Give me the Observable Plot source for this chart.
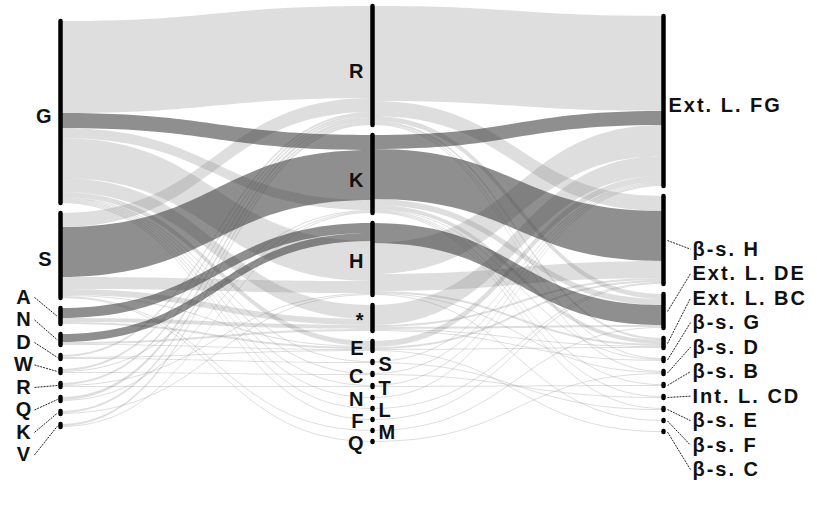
<!DOCTYPE html>
<html><head><meta charset="utf-8">
<script src="https://cdn.jsdelivr.net/npm/d3@7"></script>
<script src="https://cdn.jsdelivr.net/npm/@observablehq/plot@0.6"></script>
<style>body{margin:0;background:#fff}</style>
</head><body><div id="chart"></div>
<script>
// ---- data ----
const leftCategories = ["G","S","A","N","D","W","R","Q","K","V"];
const middleCategories = ["R","K","H","*","E","S","C","T","N","L","F","M","Q"];
const rightCategories = ["Ext. L. FG","β-s. H","Ext. L. DE","Ext. L. BC","β-s. G","β-s. D","β-s. B","Int. L. CD","β-s. E","β-s. F","β-s. C"];

// [from, to, value, highlighted]
const flowsLeftMiddle = [
  ["G","R",92,0],["G","K",15,1],["G","K",10,0],["G","H",40,0],["G","*",14,0],["G","E",5,0],["G","S",1,0],["G","C",1,0],["G","T",1,0],["G","N",1,0],["G","L",1,0],["G","F",1,0],
  ["S","R",14,0],["S","K",50,1],["S","H",12,0],["S","*",6,0],["S","E",1,0],["S","M",1,0],["S","Q",1,0],
  ["A","H",10,1],["A","*",4,0],["A","E",2,0],
  ["N","H",8,1],["N","*",2,0],["N","E",1,0],
  ["D","R",2,0],["D","E",1,0],["D","S",1,0],
  ["W","R",2,0],["W","K",1,0],["W","C",1,0],
  ["R","R",2,0],["R","H",1,0],["R","T",1,0],
  ["Q","R",3,0],["Q","K",1,0],
  ["K","R",2,0],["K","H",1,0],
  ["V","R",2,0],["V","K",1,0]
];
const flowsMiddleRight = [
  ["R","Ext. L. FG",95,0],["R","β-s. H",15,0],["R","Ext. L. DE",5,0],["R","Ext. L. BC",2,0],["R","β-s. G",1,0],["R","β-s. D",1,0],
  ["K","Ext. L. FG",14,1],["K","β-s. H",50,1],["K","Ext. L. DE",6,0],["K","Ext. L. BC",4,0],["K","β-s. G",1,0],["K","β-s. B",1,0],["K","Int. L. CD",1,0],["K","β-s. E",1,0],
  ["H","Ext. L. FG",31,0],["H","β-s. H",17,0],["H","Ext. L. DE",20,1],["H","Ext. L. BC",2,0],["H","β-s. D",1,0],["H","β-s. F",1,0],
  ["*","Ext. L. FG",20,0],["*","β-s. H",2,0],["*","Ext. L. DE",2,0],["*","β-s. G",1,0],["*","Ext. L. BC",1,0],
  ["E","Ext. L. FG",6,0],["E","β-s. H",2,0],["E","Ext. L. BC",1,0],["E","β-s. C",1,0],
  ["S","Ext. L. FG",1,0],["S","β-s. E",1,0],
  ["C","Ext. L. FG",1,0],["C","Int. L. CD",1,0],
  ["T","Ext. L. FG",1,0],["T","β-s. B",1,0],
  ["N","Ext. L. FG",1,0],
  ["L","β-s. H",1,0],
  ["F","β-s. H",1,0],
  ["M","Ext. L. DE",1,0],
  ["Q","β-s. D",1,0]
];

// ---- layout ----
const PAD = 10, CENTER = 224;
const stageX = [60, 372, 663];
const px = (col, dx) => stageX[col] + dx;

const columns = [leftCategories, middleCategories, rightCategories];
const stages = [flowsLeftMiddle, flowsMiddleRight];
const nodes = columns.map((cats, c) => cats.map((name, i) => ({name, col: c, x: stageX[c], index: i, ins: [], outs: []})));
const links = [];
stages.forEach((flows, s) => flows.forEach(([a, b, v, dark], k) => {
  const src = nodes[s].find(n => n.name === a), tgt = nodes[s + 1].find(n => n.name === b);
  const l = {id: s + "-" + k, source: src, target: tgt, value: v, dark: !!dark};
  src.outs.push(l); tgt.ins.push(l); links.push(l);
}));
nodes.forEach(col => {
  col.forEach(n => n.value = Math.max(d3.sum(n.ins, l => l.value), d3.sum(n.outs, l => l.value)));
  const total = d3.sum(col, n => n.value) + PAD * (col.length - 1);
  let y = CENTER - total / 2;
  col.forEach(n => { n.y0 = y; n.y1 = y + n.value; n.cy = (n.y0 + n.y1) / 2; y = n.y1 + PAD; });
});
nodes.flat().forEach(n => {
  const mid = n.col === 1;
  const outs = [...n.outs].sort((a, b) => (mid ? (b.dark - a.dark) : 0) || a.target.index - b.target.index);
  let y = n.y0; outs.forEach(l => { l.sy0 = y; y += l.value; l.sy1 = y; });
  const ins = [...n.ins].sort((a, b) => (mid ? (b.dark - a.dark) : 0) || a.source.index - b.source.index);
  y = n.y0; ins.forEach(l => { l.ty0 = y; y += l.value; l.ty1 = y; });
});
const bandPts = links.flatMap(l => [
  {id: l.id, dark: l.dark, x: l.source.x, y1: l.sy0, y2: l.sy1},
  {id: l.id, dark: l.dark, x: l.target.x, y1: l.ty0, y2: l.ty1}
]);

// labels
const lblEnd = [], lblMid = [], lblStart = [], leaders = [];
nodes[0].forEach((n, i) => { if (i < 2) lblEnd.push({x: px(0, -7), y: n.cy + 4, text: n.name}); });
{
  const grp = nodes[0].slice(2), step = 22.5;
  const start = d3.mean(grp, n => n.cy) - (grp.length - 1) * step / 2;
  grp.forEach((n, k) => {
    const ly = start + k * step;
    lblMid.push({x: px(0, -36), y: ly, text: n.name});
    leaders.push({x1: px(0, -26), y1: ly, x2: px(0, -3), y2: n.cy});
  });
}
nodes[1].forEach((n, i) => {
  const dy = i < 2 ? 6 : 2;
  if (i < 5 || i % 2 === 0) lblEnd.push({x: px(1, -7), y: n.cy + dy, text: n.name});
  else lblStart.push({x: px(1, 6), y: n.cy + dy, text: n.name});
});
{
  const n0 = nodes[2][0];
  lblStart.push({x: px(2, 5), y: n0.cy + 4, text: n0.name});
  const grp = nodes[2].slice(1), step = 24.5;
  const start = d3.mean(grp, n => n.cy) - (grp.length - 1) * step / 2 - 8;
  grp.forEach((n, k) => {
    const ly = start + k * step;
    lblStart.push({x: px(2, 29), y: ly, text: n.name});
    leaders.push({x1: px(2, 4), y1: n.cy, x2: px(2, 27), y2: ly});
  });
}

const textOpts = {x: "x", y: "y", text: "text", fontSize: 20, fontWeight: "bold", fill: "#111"};
const chart = Plot.plot({
  width: 817, height: 506,
  marginTop: 0, marginRight: 0, marginBottom: 0, marginLeft: 0,
  x: {type: "linear", domain: [0, 817], range: [0, 817], axis: null},
  y: {type: "linear", domain: [0, 506], range: [0, 506], axis: null},
  style: {fontFamily: "'Liberation Sans', Arial, sans-serif", letterSpacing: "2px", background: "white"},
  marks: [
    Plot.area(bandPts.filter(d => !d.dark), {x1: "x", y1: "y1", y2: "y2", z: "id", curve: "bump-x", fill: "#7a7a7a", fillOpacity: 0.25}),
    Plot.area(bandPts.filter(d => d.dark), {x1: "x", y1: "y1", y2: "y2", z: "id", curve: "bump-x", fill: "#333", fillOpacity: 0.55}),
    Plot.ruleX(nodes.flat(), {x: "x", y1: "y0", y2: "y1", stroke: "black", strokeWidth: 4.5, strokeLinecap: "round"}),
    Plot.link(leaders, {x1: "x1", y1: "y1", x2: "x2", y2: "y2", stroke: "#222", strokeWidth: 1, strokeDasharray: "2,1"}),
    Plot.text(lblEnd, {...textOpts, textAnchor: "end"}),
    Plot.text(lblMid, {...textOpts, textAnchor: "middle"}),
    Plot.text(lblStart, {...textOpts, textAnchor: "start"})
  ]
});
document.getElementById("chart").append(chart);
</script>
</body></html>
